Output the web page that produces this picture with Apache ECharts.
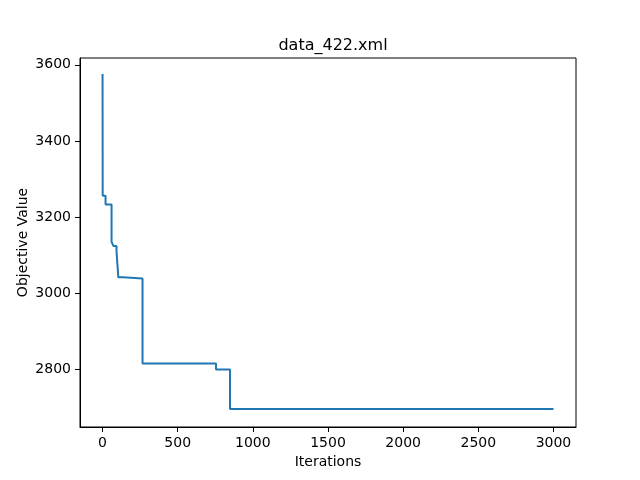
<!DOCTYPE html>
<html>
<head>
<meta charset="utf-8">
<script src="https://cdn.jsdelivr.net/npm/echarts@6/dist/echarts.min.js"></script>
<style>
html,body{margin:0;padding:0;background:#fff;}
#main{width:640px;height:480px;}
</style>
</head>
<body>
<div id="main"></div>
<script>
// best objective so far
var iters = [0, 1, 20, 60, 73, 93, 105, 136, 266, 755, 848, 3000];
var values = [3576, 3256, 3233, 3135, 3124, 3110, 3042, 3039, 2816, 2800, 2696, 2696];

var xTicks = [0, 500, 1000, 1500, 2000, 2500, 3000];
var yTicks = [2800, 3000, 3200, 3400, 3600];

var pts = [];
for (var i = 0; i < iters.length; i++) {
    pts.push([iters[i], values[i]]);
}

var font = 'DejaVu Sans';
var myChart = echarts.init(document.getElementById('main'));
var option = {
    backgroundColor: '#fff',
    animation: false,
    title: {
        text: 'data_422.xml',
        left: 328,
        top: 33,
        textAlign: 'center',
        textStyle: {fontFamily: font, fontSize: 16, fontWeight: 'normal', color: '#000'}
    },
    grid: {
        left: 80,
        right: 64,
        top: 58,
        bottom: 53,
        show: true,
        borderColor: '#000',
        borderWidth: 1,
        backgroundColor: 'transparent'
    },
    xAxis: {
        type: 'value',
        min: -150,
        max: 3150,
        name: 'Iterations',
        nameLocation: 'middle',
        nameGap: 28,
        nameMoveOverlap: false,
        nameTextStyle: {fontFamily: font, fontSize: 14, color: '#000'},
        axisLine: {show: true, onZero: false, lineStyle: {color: '#000', width: 1}},
        axisTick: {show: true, inside: false, length: 5, lineStyle: {color: '#000'}, customValues: xTicks},
        axisLabel: {fontFamily: font, fontSize: 14, color: '#000', margin: 9, customValues: xTicks,
            formatter: function (v) { return String(v); }},
        splitLine: {show: false}
    },
    yAxis: {
        type: 'value',
        min: 2649,
        max: 3618,
        name: 'Objective Value',
        nameLocation: 'middle',
        nameGap: 50,
        nameMoveOverlap: false,
        nameTextStyle: {fontFamily: font, fontSize: 14, color: '#000'},
        axisLine: {show: true, onZero: false, lineStyle: {color: '#000', width: 1}},
        axisTick: {show: true, inside: false, length: 5, lineStyle: {color: '#000'}, customValues: yTicks},
        axisLabel: {fontFamily: font, fontSize: 14, color: '#000', margin: 9, customValues: yTicks,
            formatter: function (v) { return String(v); }},
        splitLine: {show: false}
    },
    series: [
        {
            type: 'line',
            step: 'end',
            data: pts,
            showSymbol: false,
            lineStyle: {color: '#1f77b4', width: 2},
            itemStyle: {color: '#1f77b4'}
        }
    ]
};
myChart.setOption(option);
</script>
</body>
</html>
